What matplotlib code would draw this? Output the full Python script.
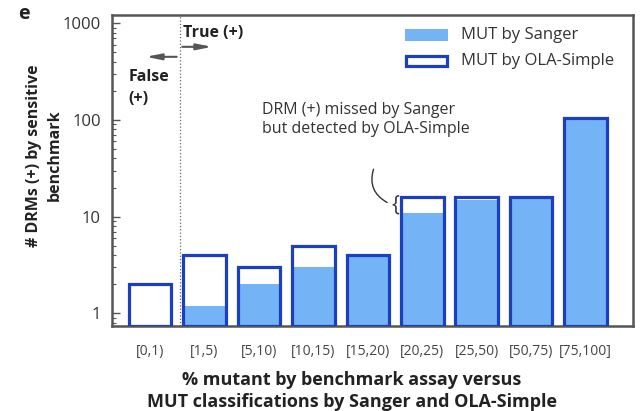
import numpy as np
import matplotlib
matplotlib.use("Agg")
import matplotlib.pyplot as plt
from matplotlib.patches import Rectangle

plt.rcParams['font.family'] = ['Open Sans', 'DejaVu Sans']

bins = ["[0,1)", "[1,5)", "[5,10)", "[10,15)", "[15,20)", "[20,25)", "[25,50)", "[50,75)", "[75,100]"]
ola_simple = [2, 4, 3, 5, 4, 16, 16, 16, 104]
sanger = [0, 1.2, 2, 3, 4, 11, 15, 16, 104]

light = "#74b3f5"
dark = "#1c3fbf"
frame = "#555555"
floor = 0.745

fig = plt.figure(figsize=(6.4, 4.11), dpi=100)
ax = fig.add_axes([0.175, 0.2075, 0.814, 0.756])

x = np.arange(len(bins))
w = 0.78
ax.bar(x, np.clip(np.array(sanger) - floor, 0, None), w, bottom=floor, color=light, zorder=2)
ax.bar(x, np.array(ola_simple) - floor, w, bottom=floor, facecolor="none", edgecolor=dark, linewidth=2.3, zorder=3)

ax.set_yscale("log")
ax.set_ylim(floor, 1218)
ax.set_xlim(-0.70, 8.87)
ax.set_yticks([1, 10, 100, 1000])
ax.set_yticklabels(["1", "10", "100", "1000"])
ax.tick_params(axis="y", which="both", direction="in", colors=frame, labelcolor="#333333", labelsize=12, pad=8)
ax.tick_params(axis="y", which="major", length=6, width=1)
ax.tick_params(axis="y", which="minor", length=3, width=0.8)
ax.set_xticks(x)
ax.set_xticklabels(bins, fontsize=10, color="#444444")
ax.tick_params(axis="x", length=0, pad=13)
for s in ax.spines.values():
    s.set_color(frame)
    s.set_linewidth(1.8)

# true / false split
ax.axvline(0.54, color="#666666", linestyle=":", linewidth=0.9, zorder=1)
ax.annotate("", xy=(1.19, 571), xytext=(0.54, 571),
            arrowprops=dict(arrowstyle="-|>,head_length=0.9,head_width=0.18", color="#555555", lw=1.5))
ax.annotate("", xy=(-0.13, 450), xytext=(0.54, 450),
            arrowprops=dict(arrowstyle="-|>,head_length=0.9,head_width=0.18", color="#555555", lw=1.5))
ax.text(0.60, 790, "True (+)", fontsize=11.5, fontweight="bold", color="#222222", va="center")
ax.text(-0.40, 215, "False\n(+)", fontsize=11.5, fontweight="bold", color="#222222", va="center", linespacing=1.5)

# legend
fig.patches.append(Rectangle((405 / 640, 1 - 41 / 411), 43 / 640, 12 / 411, transform=fig.transFigure,
                             facecolor=light, edgecolor="none"))
fig.patches.append(Rectangle((406 / 640, 1 - 66 / 411), 41 / 640, 10 / 411, transform=fig.transFigure,
                             facecolor="white", edgecolor=dark, linewidth=2.3))
fig.text(461 / 640, 1 - 35 / 411, "MUT by Sanger", fontsize=12, color="#333333", va="center")
fig.text(461 / 640, 1 - 61 / 411, "MUT by OLA-Simple", fontsize=12, color="#333333", va="center")

# missed-by-Sanger note
ax.text(2.06, 100, "DRM (+) missed by Sanger\nbut detected by OLA-Simple", fontsize=11.5, color="#333333",
        va="center", linespacing=1.25)
ax.text(4.5, 13.3, "{", fontsize=15, color="#333333", ha="center", va="center")
ax.annotate("", xy=(4.4, 13.6), xytext=(4.12, 33),
            arrowprops=dict(arrowstyle="-", color="#333333", lw=1.0, connectionstyle="arc3,rad=0.45"))

fig.text(0.028, 0.965, "e", fontsize=14, fontweight="bold", color="#222222", va="center")
fig.text(0.069, 0.622, "# DRMs (+) by sensitive\nbenchmark", rotation=90, fontsize=11.5, fontweight="bold",
         color="#222222", ha="center", va="center", linespacing=1.35)
fig.text(352 / 640, 1 - 391 / 411, "% mutant by benchmark assay versus\nMUT classifications by Sanger and OLA-Simple",
         fontsize=13, fontweight="bold", color="#222222", ha="center", va="center", linespacing=1.3)

fig.savefig("out.png", dpi=100)
